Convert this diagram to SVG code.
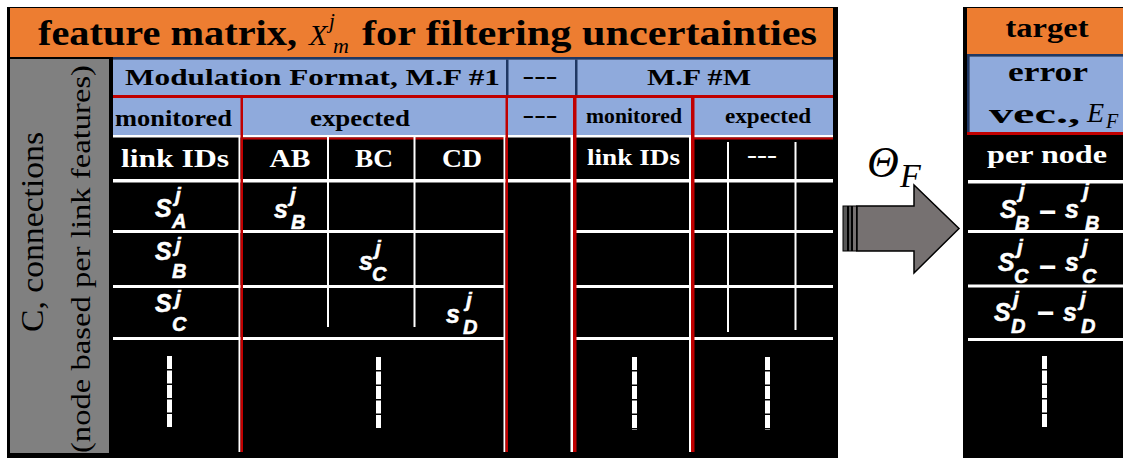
<svg xmlns="http://www.w3.org/2000/svg" width="1123" height="458" viewBox="0 0 1123 458">
  <defs>
    <style>
      .hd { font-family: "Liberation Serif", "Times New Roman", serif; font-weight: bold; fill: #000; }
      .wt { fill: #fff; }
      .rm { font-family: "Liberation Serif", "Times New Roman", serif; fill: #000; }
      .it { font-family: "Liberation Serif", "Times New Roman", serif; font-style: italic; fill: #000; }
      .sy { font-family: "Liberation Sans", Arial, sans-serif; font-weight: bold; font-style: italic; fill: #fff; stroke: #fff; stroke-width: 0.5; }
      .mn { font-family: "Liberation Sans", Arial, sans-serif; font-weight: bold; font-size: 30px; fill: #fff; }
      .big { font-size: 25px; }
      .sup { font-size: 21px; }
      .sub { font-size: 20px; }
      .orange { fill: #ed7d31; }
      .blue { fill: #8faadc; }
      .navy { fill: #1f3864; }
      .red { fill: #c00000; }
      .wl { fill: #fff; }
      .dots { stroke: #fff; stroke-width: 5; stroke-dasharray: 13 1.5; fill: none; }
    </style>
  </defs>

  <rect width="1123" height="458" fill="#fff"/>

  <!-- feature matrix block -->
  <g id="feature-matrix">
    <rect x="7" y="7" width="831" height="460" fill="#000"/>
    <rect class="orange" x="10" y="8" width="823" height="49"/>
    <rect class="navy" x="113" y="57" width="720" height="2.5"/>
    <text class="hd" x="38" y="45" font-size="36" textLength="259" lengthAdjust="spacingAndGlyphs">feature matrix,</text>
    <text class="it" x="309" y="45" font-size="30">X</text>
    <text class="it" x="329" y="28" font-size="21">j</text>
    <text class="it" x="333" y="53" font-size="22">m</text>
    <text class="hd" x="362" y="45" font-size="36" textLength="455" lengthAdjust="spacingAndGlyphs">for filtering uncertainties</text>
  </g>

  <!-- side label: connections -->
  <g id="connections-label">
    <rect x="10" y="59" width="99" height="394" fill="#808080"/>
    <text class="rm" transform="translate(43,232) rotate(-90)" font-size="32" text-anchor="middle" textLength="200" lengthAdjust="spacingAndGlyphs">C, connections</text>
    <text class="rm" transform="translate(90,259) rotate(-90)" font-size="28" text-anchor="middle" textLength="388" lengthAdjust="spacingAndGlyphs">(node based per link features)</text>
  </g>

  <!-- modulation format header rows -->
  <g id="format-header">
    <rect class="blue" x="113" y="59.5" width="720" height="35.5"/>
    <rect class="navy" x="506" y="59.5" width="2.5" height="35.5"/>
    <rect class="navy" x="575" y="59.5" width="2.5" height="35.5"/>
    <rect class="red" x="113" y="95" width="720" height="3"/>
    <rect class="blue" x="113" y="98" width="720" height="37"/>
    <rect class="wl" x="113" y="135" width="720" height="2.5"/>
    <rect class="red" x="242" y="137.5" width="263" height="2"/>
    <rect class="red" x="693" y="137.5" width="140" height="2"/>

    <text class="hd" x="125" y="85" font-size="24" textLength="375" lengthAdjust="spacingAndGlyphs">Modulation Format, M.F #1</text>
    <text class="hd" x="540" y="84" font-size="24" text-anchor="middle" textLength="35" lengthAdjust="spacingAndGlyphs">---</text>
    <text class="hd" x="647" y="85" font-size="24" textLength="104" lengthAdjust="spacingAndGlyphs">M.F #M</text>

    <text class="hd" x="115" y="126" font-size="24" textLength="117" lengthAdjust="spacingAndGlyphs">monitored</text>
    <text class="hd" x="310" y="126" font-size="24" textLength="100" lengthAdjust="spacingAndGlyphs">expected</text>
    <text class="hd" x="540" y="123" font-size="24" text-anchor="middle" textLength="35" lengthAdjust="spacingAndGlyphs">---</text>
    <text class="hd" x="586" y="123" font-size="21" textLength="96" lengthAdjust="spacingAndGlyphs">monitored</text>
    <text class="hd" x="725" y="123" font-size="21" textLength="86" lengthAdjust="spacingAndGlyphs">expected</text>
  </g>

  <!-- grid lines of the matrix body -->
  <g id="matrix-grid">
    <rect class="wl" x="113" y="179" width="720" height="3.5"/>
    <rect class="wl" x="113" y="230" width="392" height="3"/>
    <rect class="wl" x="571" y="230" width="262" height="3"/>
    <rect class="wl" x="113" y="285" width="392" height="3"/>
    <rect class="wl" x="571" y="285" width="262" height="3"/>
    <rect class="wl" x="113" y="337" width="392" height="3"/>
    <rect class="wl" x="571" y="337" width="262" height="3"/>

    <rect class="wl" x="238.5" y="137" width="2" height="315"/>
    <rect class="red" x="240.5" y="98" width="2.5" height="354"/>
    <rect class="wl" x="503.5" y="137" width="2" height="315"/>
    <rect class="red" x="505.5" y="98" width="2.5" height="354"/>
    <rect class="wl" x="570.5" y="137" width="2.5" height="315"/>
    <rect class="red" x="573" y="98" width="3.5" height="354"/>
    <rect class="wl" x="689" y="137" width="2" height="315"/>
    <rect class="red" x="691" y="98" width="3.5" height="354"/>

    <rect class="wl" x="327" y="137" width="2" height="190"/>
    <rect class="wl" x="413.5" y="137" width="2" height="190"/>
    <rect class="wl" x="727" y="142" width="2" height="190"/>
    <rect class="wl" x="794.5" y="142" width="2" height="188"/>

    <line class="dots" x1="169.5" y1="356" x2="169.5" y2="428"/>
    <line class="dots" x1="378.5" y1="357" x2="378.5" y2="429"/>
    <line class="dots" x1="634.5" y1="357" x2="634.5" y2="430"/>
    <line class="dots" x1="767.5" y1="357" x2="767.5" y2="430"/>
  </g>

  <!-- column headings -->
  <g id="link-headings">
    <text class="hd wt" x="121" y="167" font-size="26" textLength="108" lengthAdjust="spacingAndGlyphs">link IDs</text>
    <text class="hd wt" x="290" y="167" font-size="26" text-anchor="middle" textLength="41" lengthAdjust="spacingAndGlyphs">AB</text>
    <text class="hd wt" x="374" y="167" font-size="26" text-anchor="middle" textLength="38" lengthAdjust="spacingAndGlyphs">BC</text>
    <text class="hd wt" x="462" y="167" font-size="26" text-anchor="middle" textLength="40" lengthAdjust="spacingAndGlyphs">CD</text>
    <text class="hd wt" x="587" y="165" font-size="24" textLength="93" lengthAdjust="spacingAndGlyphs">link IDs</text>
    <text class="hd wt" x="762" y="163" font-size="24" text-anchor="middle" textLength="30" lengthAdjust="spacingAndGlyphs">---</text>
  </g>

  <!-- monitored / expected entries -->
  <g id="row-a">
    <text class="sy big" x="155" y="217">S</text>
    <text class="sy sup" x="175" y="202">j</text>
    <text class="sy sub" x="172" y="228">A</text>
    <text class="sy big" x="274" y="218">s</text>
    <text class="sy sup" x="290" y="202">j</text>
    <text class="sy sub" x="291" y="229">B</text>
  </g>
  <g id="row-b">
    <text class="sy big" x="155" y="260">S</text>
    <text class="sy sup" x="175" y="252">j</text>
    <text class="sy sub" x="172" y="278">B</text>
    <text class="sy big" x="359" y="270">s</text>
    <text class="sy sup" x="375" y="255">j</text>
    <text class="sy sub" x="372" y="281">C</text>
  </g>
  <g id="row-c">
    <text class="sy big" x="155" y="312">S</text>
    <text class="sy sup" x="175" y="305">j</text>
    <text class="sy sub" x="172" y="331">C</text>
    <text class="sy big" x="446" y="323">s</text>
    <text class="sy sup" x="466" y="307">j</text>
    <text class="sy sub" x="463" y="334">D</text>
  </g>

  <!-- mapping arrow -->
  <g id="connectors">
    <polygon points="857,206 914,206 914,185 959,228.5 914,273 914,251 857,251" fill="#767171" stroke="#000" stroke-width="1.5" stroke-linejoin="miter"/>
    <rect x="843" y="206" width="4.5" height="45" fill="#595959" stroke="#000" stroke-width="1"/>
    <rect x="848.5" y="206" width="3" height="45" fill="#595959" stroke="#000" stroke-width="1"/>
    <rect x="852.5" y="206" width="4" height="45" fill="#767171" stroke="#000" stroke-width="1"/>
    <text class="it" x="867" y="177" font-size="44">Θ</text>
    <text class="it" x="900" y="187" font-size="34">F</text>
  </g>

  <!-- target error vector -->
  <g id="target">
    <rect x="963" y="7" width="170" height="460" fill="#000"/>
    <rect class="orange" x="967" y="8" width="160" height="46"/>
    <rect class="navy" x="967" y="54" width="160" height="2.5"/>
    <rect class="navy" x="967" y="56" width="2.5" height="76"/>
    <rect class="blue" x="969.5" y="56.5" width="160" height="75.5"/>
    <rect class="red" x="967" y="132" width="160" height="3"/>
    <text class="hd" x="1047" y="37" font-size="28" text-anchor="middle" textLength="83" lengthAdjust="spacingAndGlyphs">target</text>
    <text class="hd" x="1048" y="81" font-size="28" text-anchor="middle" textLength="80" lengthAdjust="spacingAndGlyphs">error</text>
    <text class="hd" x="989" y="123" font-size="28" textLength="91" lengthAdjust="spacingAndGlyphs">vec.,</text>
    <text class="it" x="1087" y="122" font-size="28">E</text>
    <text class="it" x="1106" y="128" font-size="20">F</text>

    <text class="hd wt" x="987" y="163" font-size="26" textLength="120" lengthAdjust="spacingAndGlyphs">per node</text>
    <rect class="wl" x="968" y="180" width="160" height="3.5"/>
    <rect class="wl" x="968" y="230" width="160" height="3"/>
    <rect class="wl" x="968" y="284.5" width="160" height="3"/>
    <rect class="wl" x="968" y="338" width="160" height="3"/>

    <text class="sy big" x="1000" y="218">S</text>
    <text class="sy sup" x="1019" y="198">j</text>
    <text class="sy sub" x="1015" y="230">B</text>
    <text class="mn" x="1039" y="222">−</text>
    <text class="sy big" x="1065" y="218">s</text>
    <text class="sy sup" x="1083" y="198">j</text>
    <text class="sy sub" x="1085" y="230">B</text>

    <text class="sy big" x="998" y="271">S</text>
    <text class="sy sup" x="1017" y="254">j</text>
    <text class="sy sub" x="1014" y="283">C</text>
    <text class="mn" x="1039" y="277">−</text>
    <text class="sy big" x="1065" y="271">s</text>
    <text class="sy sup" x="1082" y="254">j</text>
    <text class="sy sub" x="1082" y="283">C</text>

    <text class="sy big" x="994" y="321">S</text>
    <text class="sy sup" x="1013" y="306">j</text>
    <text class="sy sub" x="1011" y="333">D</text>
    <text class="mn" x="1037" y="323">−</text>
    <text class="sy big" x="1063" y="321">s</text>
    <text class="sy sup" x="1080" y="306">j</text>
    <text class="sy sub" x="1081" y="333">D</text>

    <line class="dots" x1="1044.5" y1="356" x2="1044.5" y2="428"/>
  </g>
</svg>
